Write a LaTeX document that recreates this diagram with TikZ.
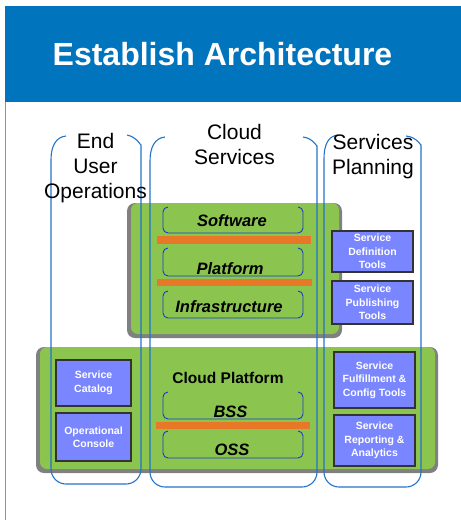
\documentclass[tikz,border=0pt]{standalone}
\usepackage{fontspec}
\setmainfont{Liberation Sans}
\usepackage{xcolor}
\usepackage{tikz}

\definecolor{hdrblue}{RGB}{0,117,190}
\definecolor{colblue}{RGB}{35,115,200}
\definecolor{layblue}{RGB}{25,60,200}
\definecolor{platgreen}{RGB}{139,197,80}
\definecolor{bargold}{RGB}{232,120,40}
\definecolor{toolblue}{RGB}{122,134,255}
\definecolor{shadowgray}{RGB}{128,128,128}

\tikzset{
  column/.style={draw=colblue, line width=1.1pt},
  layer/.style={draw=layblue, line width=0.9pt, rounded corners=5pt},
  bar/.style={fill=bargold},
  toolbox/.style={draw=black!80, line width=1.2pt, fill=toolblue, text=white,
    font=\bfseries\fontsize{10.5}{13.5}\selectfont, align=center, inner sep=0pt},
  layertext/.style={font=\bfseries\itshape\fontsize{16.5}{18}\selectfont, anchor=base, inner sep=0pt},
  heading/.style={font=\fontsize{21}{25}\selectfont, align=center, anchor=north, inner sep=0pt},
}

\begin{document}
\begin{tikzpicture}[x=1pt,y=-1pt]
    \useasboundingbox (0,0) rectangle (461,520);

    % header
    \fill[hdrblue] (5,6) rectangle (461,102);
    \node (title) at (222.5,65) [anchor=base, text=white, inner sep=0pt, font=\bfseries\fontsize{32}{36}\selectfont] {Establish Architecture};
    \draw[colblue!70, line width=0.8pt] (5.5,102) -- (5.5,520);

    % cloud services block
    \fill[shadowgray, rounded corners=8pt] (127,203) rectangle (342,338);
    \fill[platgreen, rounded corners=7pt] (131,203) rectangle (339,334);
    \draw[layer] (168,207) -- (163,207) -- (163,233) -- (303,233) -- (303,207) -- (298,207);
    \fill[bar] (157,236) rectangle (311,244);
    \draw[layer] (168,248) -- (163,248) -- (163,276) -- (303,276) -- (303,248) -- (298,248);
    \fill[bar] (157,279) rectangle (312,286);
    \draw[layer] (168,291) -- (163,291) -- (163,318) -- (303,318) -- (303,291) -- (298,291);
    \node (sw) at (232,226) [layertext] {Software};
    \node (pf) at (230,274) [layertext] {Platform};
    \node (inf) at (229,312) [layertext] {Infrastructure};

    % cloud platform block
    \fill[shadowgray, rounded corners=8pt] (36,347) rectangle (438,473);
    \fill[platgreen, rounded corners=7pt] (40,347) rectangle (435,469);
    \node (cp) at (228,383) [anchor=base, inner sep=0pt, font=\bfseries\fontsize{15.5}{18}\selectfont] {Cloud Platform};
    \draw[layer] (168,392) -- (163,392) -- (163,419) -- (303,419) -- (303,392) -- (298,392);
    \fill[bar] (156,422) rectangle (310,429);
    \draw[layer] (168,431) -- (163,431) -- (163,458) -- (303,458) -- (303,431) -- (298,431);
    \node (bss) at (230.5,417) [layertext] {BSS};
    \node (oss) at (232,455) [layertext] {OSS};

    % tools
    \node (def) at (372.5,251.5) [toolbox, minimum width=81pt, minimum height=41pt] {Service\\Definition\\Tools};
    \node (pub) at (372.5,302.5) [toolbox, minimum width=81pt, minimum height=43pt] {Service\\Publishing\\Tools};
    \node (cat) at (93.5,383) [toolbox, minimum width=75pt, minimum height=46pt] {Service\\Catalog};
    \node (con) at (93.5,437) [toolbox, minimum width=75pt, minimum height=48pt] {Operational\\Console};
    \node (ful) at (374.5,380) [toolbox, minimum width=81pt, minimum height=56pt] {Service\\Fulfillment \&\\Config Tools};
    \node (rep) at (374.5,440.5) [toolbox, minimum width=81pt, minimum height=51pt] {Service\\Reporting \&\\Analytics};

    % columns
    \draw[column] (66,136) .. controls (56,137) and (51,146) .. (51,160)
        [rounded corners=15pt] -- (51,484) -- (141,484) -- (141,160) [sharp corners]
        .. controls (141,146) and (137,137) .. (127,135);
    \draw[column] (165,137) .. controls (155,138) and (150,147) .. (150,161)
        [rounded corners=15pt] -- (150,487) -- (317,487) -- (317,161) [sharp corners]
        .. controls (317,147) and (313,138) .. (303,137);
    \draw[column] (338,135) .. controls (328,136) and (324,145) .. (324,159)
        [rounded corners=15pt] -- (324,487) -- (421,487) -- (421,160) [sharp corners]
        .. controls (421,146) and (417,137) .. (406,136);
    \node (eu) at (95.5,133) [heading] {End\\User\\Operations};
    \node (cs) at (234.5,123.7) [heading] {Cloud\\Services};
    \node (sp) at (373,133.7) [heading] {Services\\Planning};
\end{tikzpicture}
\end{document}
